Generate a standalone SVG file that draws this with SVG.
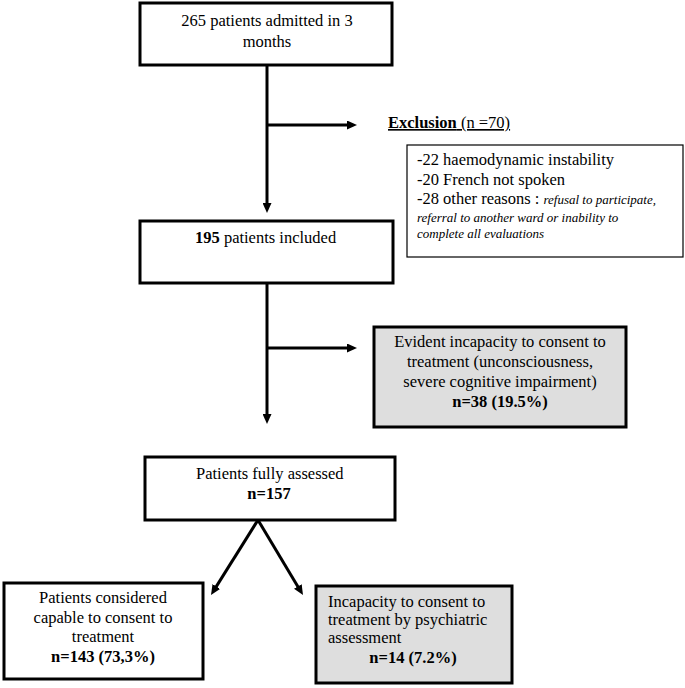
<svg xmlns="http://www.w3.org/2000/svg" width="685" height="688" viewBox="0 0 685 688">
<style>
text{font-family:"Liberation Serif","Times New Roman",serif;font-size:16.5px;fill:#000}
.box{fill:#fff;stroke:#000;stroke-width:3}
.grey{fill:#dedede;stroke:#000;stroke-width:3}
.thin{fill:#fff;stroke:#000;stroke-width:1.2}
.c{text-anchor:middle}
.b{font-weight:bold}
.it{font-style:italic;font-size:13px}
.conn{fill:none;stroke:#000;stroke-width:3}
</style>
<defs>
<marker id="ah" markerUnits="userSpaceOnUse" markerWidth="10" markerHeight="9" refX="4" refY="4.5" orient="auto">
<path d="M0,0 L10,4.5 L0,9 z" fill="#000"/>
</marker>
</defs>
<rect width="685" height="688" fill="#fff"/>
<g id="connectors">
<path class="conn" d="M267,65 V207" marker-end="url(#ah)"/>
<path class="conn" d="M267,125 H351" marker-end="url(#ah)"/>
<path class="conn" d="M267,283 V418" marker-end="url(#ah)"/>
<path class="conn" d="M267,348 H351" marker-end="url(#ah)"/>
<path class="conn" d="M258,520 L214.2,589.9" marker-end="url(#ah)"/>
<path class="conn" d="M258,520 L299.9,589.9" marker-end="url(#ah)"/>
</g>
<g id="admitted">
<rect class="box" x="140" y="3" width="252" height="62"/>
<text class="c" x="267" y="26">265  patients admitted in 3</text>
<text class="c" x="267" y="47">months</text>
</g>
<g id="exclusion-label">
<text x="388" y="128"><tspan class="b" text-decoration="underline">Exclusion</tspan><tspan text-decoration="underline"> (n =70)</tspan></text>
</g>
<g id="exclusion-details">
<rect class="thin" x="407" y="145" width="276" height="112"/>
<text x="417" y="165">-22 haemodynamic instability</text>
<text x="417" y="185">-20 French not spoken</text>
<text x="417" y="204">-28 other reasons :  <tspan class="it">refusal to participate,</tspan></text>
<text class="it" x="417" y="222">referral to another ward  or inability to</text>
<text class="it" x="417" y="238">complete all evaluations</text>
</g>
<g id="included">
<rect class="box" x="140" y="221" width="253" height="62"/>
<text x="195" y="243"><tspan class="b">195</tspan> patients included</text>
</g>
<g id="evident-incapacity">
<rect class="grey" x="374" y="327" width="252" height="100"/>
<text class="c" x="500" y="347">Evident incapacity to consent to</text>
<text class="c" x="500" y="367">treatment (unconsciousness,</text>
<text class="c" x="500" y="387">severe cognitive impairment)</text>
<text class="c b" x="500" y="407">n=38 (19.5%)</text>
</g>
<g id="fully-assessed">
<rect class="box" x="145" y="457" width="250" height="63"/>
<text x="196" y="479">Patients fully assessed</text>
<text class="c b" x="269" y="499">n=157</text>
</g>
<g id="capable">
<rect class="box" x="4" y="583" width="199" height="96"/>
<text class="c" x="103" y="603">Patients considered</text>
<text class="c" x="103" y="623">capable to consent to</text>
<text class="c" x="103" y="642">treatment</text>
<text class="c b" x="103" y="662">n=143 (73,3%)</text>
</g>
<g id="incapacity-psych">
<rect class="grey" x="316" y="586" width="196" height="97"/>
<text x="328" y="607">Incapacity to consent to</text>
<text x="328" y="625">treatment by psychiatric</text>
<text x="328" y="643">assessment</text>
<text class="c b" x="413" y="663">n=14 (7.2%)</text>
</g>
</svg>
